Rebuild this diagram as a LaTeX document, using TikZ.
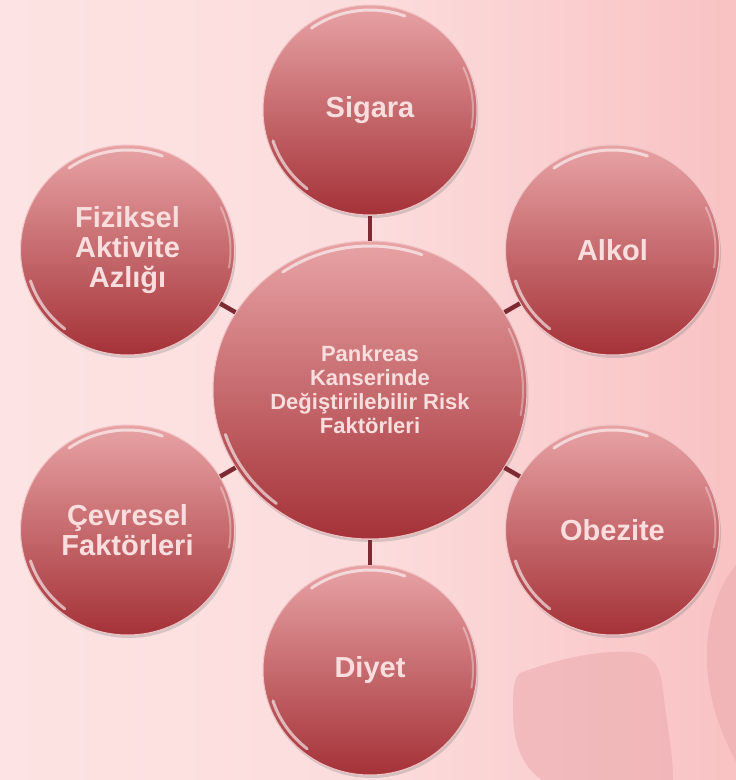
\documentclass[tikz,border=0pt]{standalone}
\usepackage{fontspec}
\setmainfont{Liberation Sans}
\usepackage{tikz}
\usetikzlibrary{shapes.geometric,shadows}
\definecolor{bgleft}{RGB}{253,227,227}
\definecolor{bgright}{RGB}{249,194,195}
\definecolor{blobpink}{RGB}{236,172,175}
\definecolor{balltop}{RGB}{232,163,165}
\definecolor{ballbot}{RGB}{164,50,56}
\definecolor{ballrim}{RGB}{240,196,198}
\definecolor{balltext}{RGB}{250,222,222}
\definecolor{linkred}{RGB}{123,43,49}

\tikzset{
  ball/.style={ellipse, minimum width=214pt, minimum height=210pt, inner sep=0pt, align=center,
    top color=balltop, bottom color=ballbot, draw=ballrim, line width=1pt, text=balltext,
    font=\bfseries\fontsize{29}{30}\selectfont,
    drop shadow={shadow xshift=1.5pt, shadow yshift=-3pt, opacity=.3}},
  hub/.style={ball, minimum width=314pt, minimum height=298pt,
    font=\bfseries\fontsize{22}{24}\selectfont},
  link/.style={draw=linkred, line width=4.5pt},
  shine/.style={white, opacity=.6, line width=3pt, line cap=round},
  faintshine/.style={shine, opacity=.35, line width=2pt},
  blob/.style={fill=blobpink, opacity=.6}
}

\begin{document}
\begin{tikzpicture}[x=1pt, y=1pt]
  \useasboundingbox (-370,-390) rectangle (366,390);
  % background and the two soft shapes at the bottom right
  \shade[left color=bgleft, right color=bgright, middle color=bgleft!80!bgright]
    (-370,-390) rectangle (366,390);
  \fill[blob] (150,-283) .. controls (190,-268) and (230,-260) .. (262,-262)
    .. controls (285,-264) and (291,-280) .. (293,-300)
    .. controls (296,-330) and (303,-360) .. (303,-390) -- (172,-390)
    .. controls (150,-375) and (143,-350) .. (143,-320)
    .. controls (143,-300) and (143,-290) .. (150,-283) -- cycle;
  \fill[blob] (366,-175) .. controls (345,-200) and (335,-240) .. (337,-275)
    .. controls (340,-320) and (355,-350) .. (366,-372) -- cycle;

  % hub and the six factors
  \node[hub] (risk) at (0,0) {Pankreas\\Kanserinde\\Değiştirilebilir Risk\\Faktörleri};
  \node[ball] (sigara) at (90:280) {Sigara};
  \node[ball] (alkol) at (30:280) {Alkol};
  \node[ball] (obezite) at (-30:280) {Obezite};
  \node[ball] (diyet) at (-90:280) {Diyet};
  \node[ball] (cevresel) at (-150:280) {Çevresel\\Faktörleri};
  \node[ball] (fiziksel) at (150:280) {Fiziksel\\Aktivite\\Azlığı};

  \foreach \nm in {sigara,alkol,obezite,diyet,cevresel,fiziksel}
    \draw[link] (risk) -- (\nm);

  % glossy rims
  \foreach \nm in {sigara,alkol,obezite,diyet,cevresel,fiziksel}{
    \draw[shine] ([shift={(125:102pt and 100pt)}]\nm.center)
      arc[start angle=125, end angle=70, x radius=102pt, y radius=100pt];
    \draw[shine] ([shift={(198:102pt and 100pt)}]\nm.center)
      arc[start angle=198, end angle=232, x radius=102pt, y radius=100pt];
    \draw[faintshine] ([shift={(25:103pt and 101pt)}]\nm.center)
      arc[start angle=25, end angle=-10, x radius=103pt, y radius=101pt];
  }
  \draw[shine] ([shift={(125:152pt and 144pt)}]risk.center)
    arc[start angle=125, end angle=70, x radius=152pt, y radius=144pt];
  \draw[shine] ([shift={(198:152pt and 144pt)}]risk.center)
    arc[start angle=198, end angle=232, x radius=152pt, y radius=144pt];
  \draw[faintshine] ([shift={(25:153pt and 145pt)}]risk.center)
    arc[start angle=25, end angle=-10, x radius=153pt, y radius=145pt];
\end{tikzpicture}
\end{document}
